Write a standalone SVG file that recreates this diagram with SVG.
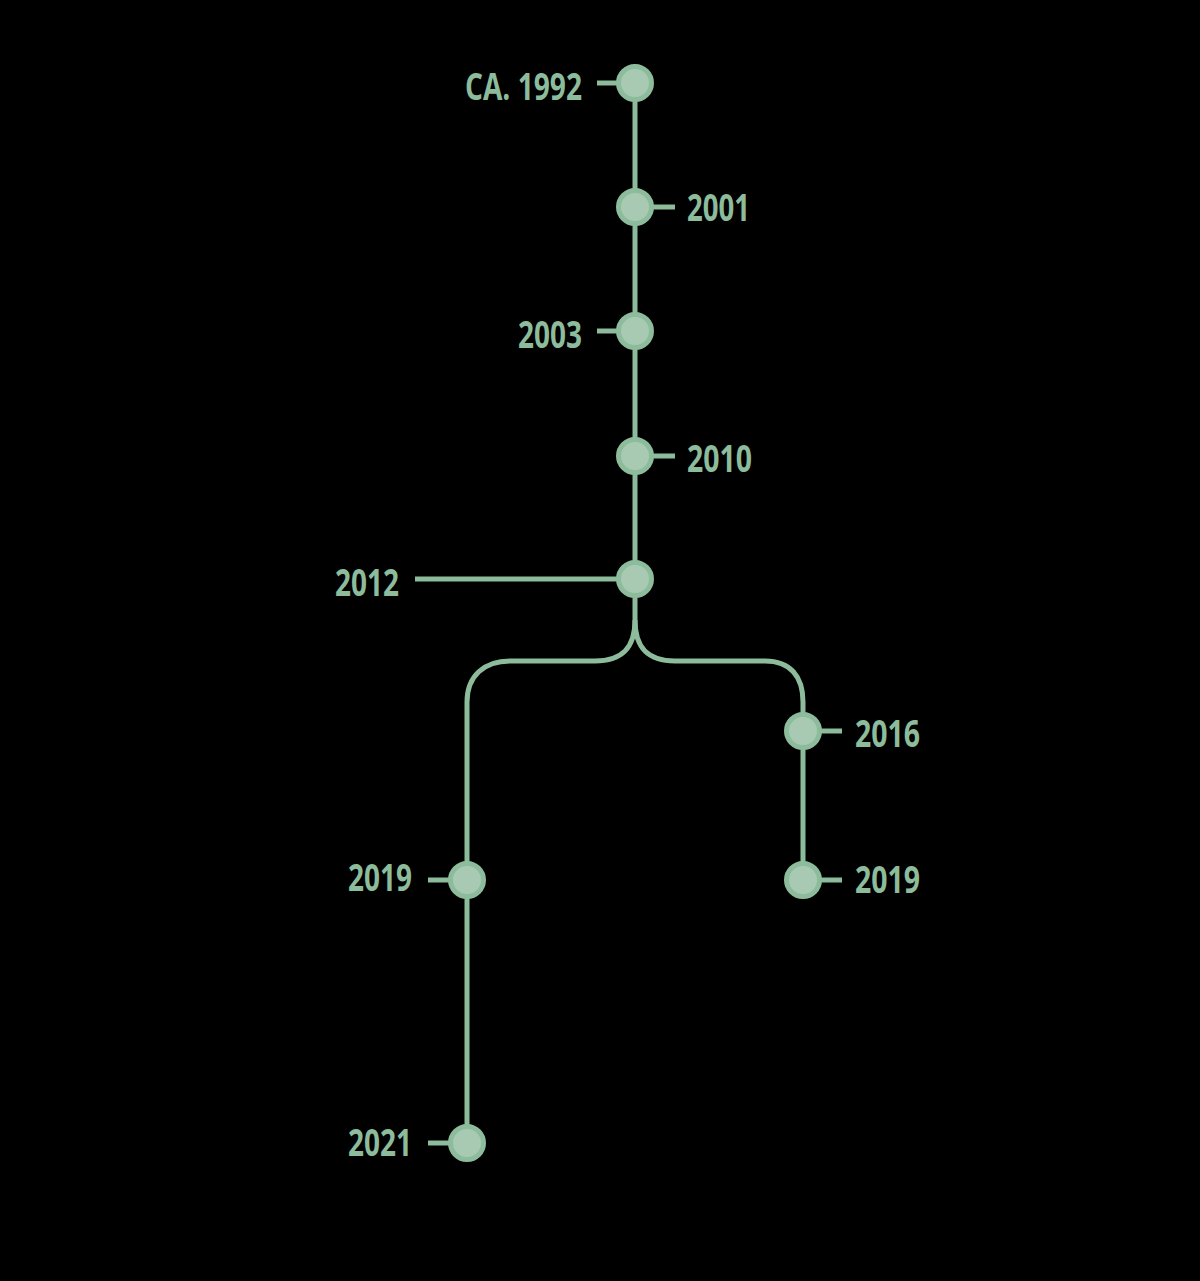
<svg xmlns="http://www.w3.org/2000/svg" width="1200" height="1281" viewBox="0 0 1200 1281">
<style>
.ln{fill:none;stroke:#8cbc9b;stroke-width:5;stroke-linecap:butt}
.nd{fill:#a8cab2;stroke:#8cbc9b;stroke-width:5}
.lb{font-family:"Open Sans","Liberation Sans",sans-serif;font-weight:bold;font-size:37px;fill:#8cbc9b}
</style>
<rect width="1200" height="1281" fill="#000"/>
<g id="connectors">
<path class="ln" d="M635,83 L635,620"/>
<path class="ln" d="M635,620 C635,648 622,661 595,661 L510,661 C484,661 467,676 467,702 L467,1143"/>
<path class="ln" d="M635,620 C635,648 648,661 675,661 L765,661 C790,661 803,676 803,702 L803,880"/>
<path class="ln" d="M597,83 H620"/>
<path class="ln" d="M650,207 H675"/>
<path class="ln" d="M597,331 H620"/>
<path class="ln" d="M650,456 H675"/>
<path class="ln" d="M415,579 H620"/>
<path class="ln" d="M818,731 H842"/>
<path class="ln" d="M818,880 H842"/>
<path class="ln" d="M428,880 H452"/>
<path class="ln" d="M428,1143 H452"/>
</g>
<g id="n1992"><circle class="nd" cx="635" cy="83" r="16.5"/><text class="lb" x="582" y="100" text-anchor="end" textLength="117" lengthAdjust="spacingAndGlyphs">CA. 1992</text></g>
<g id="n2001"><circle class="nd" cx="635" cy="207" r="16.5"/><text class="lb" x="687" y="221" textLength="63" lengthAdjust="spacingAndGlyphs">2001</text></g>
<g id="n2003"><circle class="nd" cx="635" cy="331" r="16.5"/><text class="lb" x="582" y="348" text-anchor="end" textLength="64" lengthAdjust="spacingAndGlyphs">2003</text></g>
<g id="n2010"><circle class="nd" cx="635" cy="456" r="16.5"/><text class="lb" x="687" y="472" textLength="65" lengthAdjust="spacingAndGlyphs">2010</text></g>
<g id="n2012"><circle class="nd" cx="635" cy="579" r="16.5"/><text class="lb" x="399" y="596" text-anchor="end" textLength="64" lengthAdjust="spacingAndGlyphs">2012</text></g>
<g id="n2016"><circle class="nd" cx="803" cy="731" r="16.5"/><text class="lb" x="855" y="747" textLength="65" lengthAdjust="spacingAndGlyphs">2016</text></g>
<g id="n2019r"><circle class="nd" cx="803" cy="880" r="16.5"/><text class="lb" x="855" y="893" textLength="65" lengthAdjust="spacingAndGlyphs">2019</text></g>
<g id="n2019l"><circle class="nd" cx="467" cy="880" r="16.5"/><text class="lb" x="412" y="891" text-anchor="end" textLength="64" lengthAdjust="spacingAndGlyphs">2019</text></g>
<g id="n2021"><circle class="nd" cx="467" cy="1143" r="16.5"/><text class="lb" x="412" y="1156" text-anchor="end" textLength="64" lengthAdjust="spacingAndGlyphs">2021</text></g>
</svg>
